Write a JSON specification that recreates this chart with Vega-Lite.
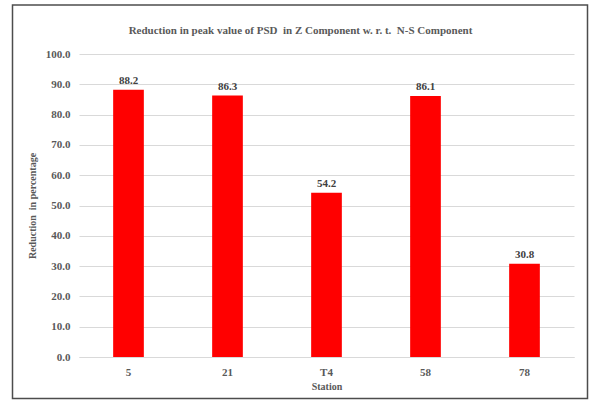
{
  "$schema": "https://vega.github.io/schema/vega-lite/v6.json",
  "autosize": "none",
  "width": 495,
  "height": 303,
  "padding": {"left": 79, "top": 54, "right": 17, "bottom": 44},
  "background": "white",
  "title": {
    "text": "Reduction in peak value of PSD \u00a0in Z Component w. r. t. \u00a0N-S Component",
    "font": "'Liberation Serif', 'Times New Roman', 'DejaVu Serif', serif",
    "fontSize": 11,
    "fontWeight": "bold",
    "color": "#595959",
    "anchor": "middle",
    "frame": "group",
    "dx": -26,
    "offset": -32
  },
  "data": {
    "values": [
      {"station": "5", "reduction": 88.2},
      {"station": "21", "reduction": 86.3},
      {"station": "T4", "reduction": 54.2},
      {"station": "58", "reduction": 86.1},
      {"station": "78", "reduction": 30.8}
    ]
  },
  "config": {
    "view": {"stroke": null},
    "font": "'Liberation Serif', 'Times New Roman', 'DejaVu Serif', serif"
  },
  "encoding": {
    "x": {
      "field": "station",
      "type": "nominal",
      "sort": null,
      "title": "Station",
      "scale": {"paddingInner": 0.69, "paddingOuter": 0.345},
      "axis": {
        "labelAngle": 0,
        "labelFont": "'Liberation Serif', 'Times New Roman', 'DejaVu Serif', serif",
        "labelFontSize": 11,
        "labelFontWeight": "bold",
        "labelColor": "#595959",
        "labelPadding": 9,
        "ticks": false,
        "domainColor": "#d9d9d9",
        "titleFont": "'Liberation Serif', 'Times New Roman', 'DejaVu Serif', serif",
        "titleFontSize": 10,
        "titleFontWeight": "bold",
        "titleColor": "#595959",
        "titlePadding": 4
      }
    },
    "y": {
      "field": "reduction",
      "type": "quantitative",
      "title": "Reduction \u00a0in percentage",
      "scale": {"domain": [0, 100]},
      "axis": {
        "values": [0, 10, 20, 30, 40, 50, 60, 70, 80, 90, 100],
        "format": ".1f",
        "labelFont": "'Liberation Serif', 'Times New Roman', 'DejaVu Serif', serif",
        "labelFontSize": 11,
        "labelFontWeight": "bold",
        "labelColor": "#595959",
        "labelPadding": 9,
        "ticks": false,
        "domain": false,
        "gridColor": "#d9d9d9",
        "gridWidth": 1,
        "titleFont": "'Liberation Serif', 'Times New Roman', 'DejaVu Serif', serif",
        "titleFontSize": 10,
        "titleFontWeight": "bold",
        "titleColor": "#595959",
        "titlePadding": 8
      }
    }
  },
  "layer": [
    {
      "mark": {
        "type": "rect",
        "fill": null,
        "stroke": "#4d4d4d",
        "strokeWidth": 1.5,
        "clip": false
      },
      "encoding": {
        "x": {"value": -66.5},
        "x2": {"value": 508.5},
        "y": {"value": -49},
        "y2": {"value": 344.5}
      },
      "data": {"values": [{}]}
    },
    {
      "mark": {"type": "bar", "color": "#ff0000"}
    },
    {
      "mark": {
        "type": "text",
        "dy": -9,
        "font": "'Liberation Serif', 'Times New Roman', 'DejaVu Serif', serif",
        "fontSize": 11,
        "fontWeight": "bold",
        "color": "#404040"
      },
      "encoding": {
        "text": {"field": "reduction", "type": "quantitative", "format": ".1f"}
      }
    }
  ]
}
